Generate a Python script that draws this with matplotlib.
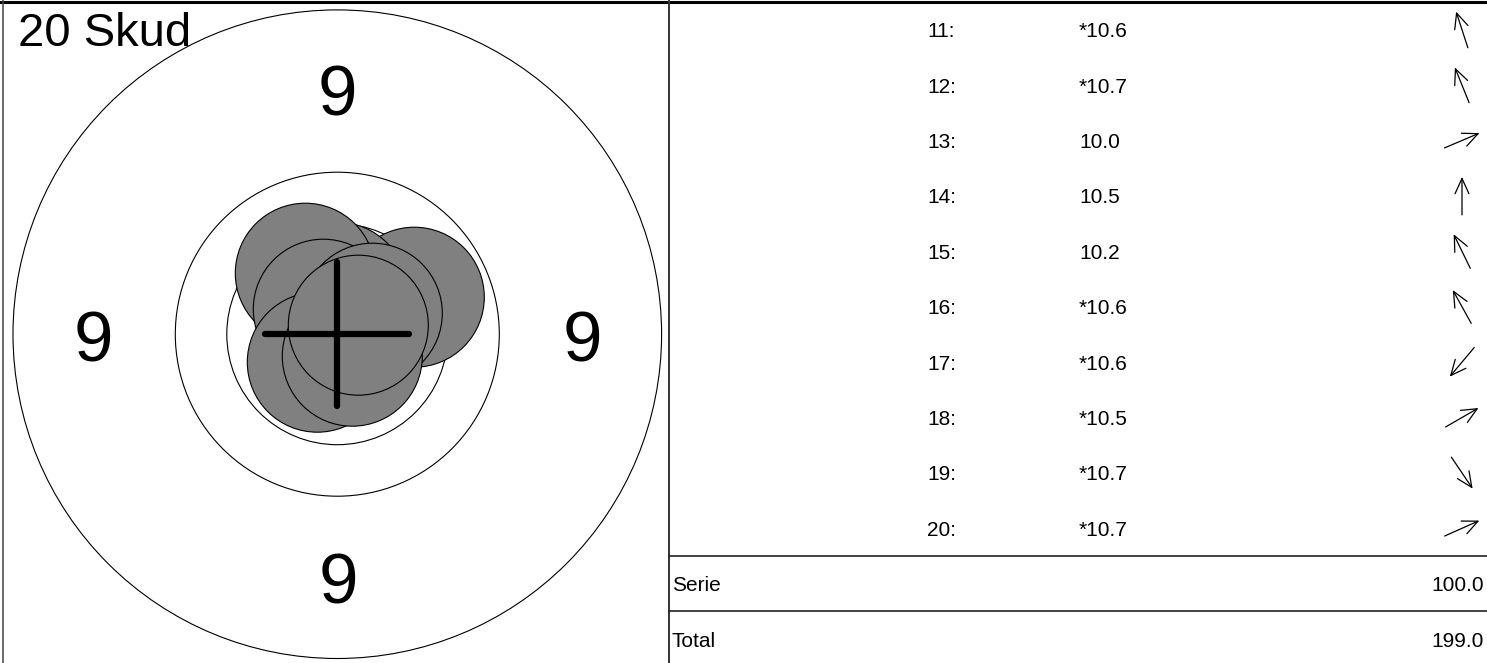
import numpy as np
import matplotlib
matplotlib.use("Agg")
import matplotlib.pyplot as plt
from matplotlib.patches import Circle

plt.rcParams['font.family'] = ['Liberation Sans', 'DejaVu Sans']

# --- data ---
title = "20 Skud"
shot_numbers = [11, 12, 13, 14, 15, 16, 17, 18, 19, 20]
shot_scores = ["*10.6", "*10.7", "10.0", "10.5", "10.2",
               "*10.6", "*10.6", "*10.5", "*10.7", "*10.7"]
# direction of each shot from the centre, degrees (0 = right, 90 = up)
shot_angles = [108, 112, 23, 90, 116, 119, 230, 30, -56, 24]
# shot centre offsets from target centre (target units, y up)
shot_dx = [-9, -7, 77, 0, -32, -14, -20, 35, 15, 21]
shot_dy = [28, 19, 37, 42, 61, 25, -28, 21, -22, 9]
ring_numbers = ["9", "9", "9", "9"]
summary_labels = ["Serie", "Total"]
summary_values = ["100.0", "199.0"]

# --- layout ---
W, H = 1487, 663
ring_radii = [110.5, 162, 324.3]
shot_radius = 70
cx_px, cy_px = 337.3, 334.2          # target centre in pixels
divider_px = 669
row_h = 55.4
row_top = 2

fig = plt.figure(figsize=(W / 100, H / 100), dpi=100)

# background / frame lines in pixel coords
ax_bg = fig.add_axes([0, 0, 1, 1])
ax_bg.set_xlim(0, W)
ax_bg.set_ylim(H, 0)
ax_bg.axis("off")
ax_bg.plot([0, W], [1.5, 1.5], color="black", lw=2.2)
ax_bg.plot([3, 3], [0, H], color="#444444", lw=1.1)
ax_bg.plot([divider_px, divider_px], [0, H], color="#333333", lw=1.4)
for k in (10, 11):
    yl = row_top + row_h * k
    ax_bg.plot([divider_px, W], [yl, yl], color="#222222", lw=1.2)

# target axes, 1 unit = 1 pixel, origin at target centre
ax_t = fig.add_axes([3 / W, 0, (divider_px - 3) / W, 1])
ax_t.patch.set_alpha(0)
ax_t.set_xlim(3 - cx_px, divider_px - cx_px)
ax_t.set_ylim(cy_px - H, cy_px)
ax_t.axis("off")

for r in ring_radii:
    ax_t.add_patch(Circle((0, 0), r, facecolor="none", edgecolor="black", lw=0.8, zorder=2))

label_pos = [(0, 244), (1, -244), (-244, -2), (245, -1.5)]
nine_size = 51
digit_h = 0.716 * nine_size * 100 / 72
for txt, (lx, ly) in zip(ring_numbers, label_pos):
    ax_t.text(lx, ly - digit_h / 2, txt, fontsize=nine_size, ha="center", va="baseline", zorder=3)

for dx, dy in zip(shot_dx, shot_dy):
    ax_t.add_patch(Circle((dx, dy), shot_radius, facecolor="#808080",
                          edgecolor="black", lw=0.8, zorder=4))

cross = 72
ax_t.plot([-cross, cross], [0, 0], color="black", lw=4.5, solid_capstyle="round", zorder=5)
ax_t.plot([0, 0], [-cross, cross], color="black", lw=4.5, solid_capstyle="round", zorder=5)

ax_t.text(18 - cx_px, cy_px - 46, title, fontsize=34, ha="left", va="baseline", zorder=6)

# table axes in pixel coords relative to divider
ax_r = fig.add_axes([divider_px / W, 0, (W - divider_px) / W, 1])
ax_r.patch.set_alpha(0)
ax_r.set_xlim(0, W - divider_px)
ax_r.set_ylim(H, 0)
ax_r.axis("off")

fs = 15
base_off = 0.358 * fs * 100 / 72
arrow_len = 38
arrow_x = 1462 - divider_px
for i, (n, s, a) in enumerate(zip(shot_numbers, shot_scores, shot_angles)):
    yc = row_top + row_h * (i + 0.5)
    ax_r.text(927 - divider_px, yc + base_off, f"{n}:", fontsize=fs, ha="left", va="baseline")
    ax_r.text(1079 - divider_px, yc + base_off, s, fontsize=fs, ha="left", va="baseline")
    ux, uy = np.cos(np.radians(a)), -np.sin(np.radians(a))
    tail = (arrow_x - ux * arrow_len / 2, yc - uy * arrow_len / 2)
    head = (arrow_x + ux * arrow_len / 2, yc + uy * arrow_len / 2)
    ax_r.annotate("", xy=head, xytext=tail,
                  arrowprops=dict(arrowstyle="->,head_length=1.1,head_width=0.5",
                                  lw=0.9, color="black", shrinkA=0, shrinkB=0,
                                  mutation_scale=10))

for j, (lab, val) in enumerate(zip(summary_labels, summary_values)):
    yc = row_top + row_h * (10 + j + 0.5)
    ax_r.text(3, yc + base_off, lab, fontsize=fs, ha="left", va="baseline")
    ax_r.text(1484 - divider_px, yc + base_off, val, fontsize=fs, ha="right", va="baseline")

fig.savefig("out.png", dpi=100)
